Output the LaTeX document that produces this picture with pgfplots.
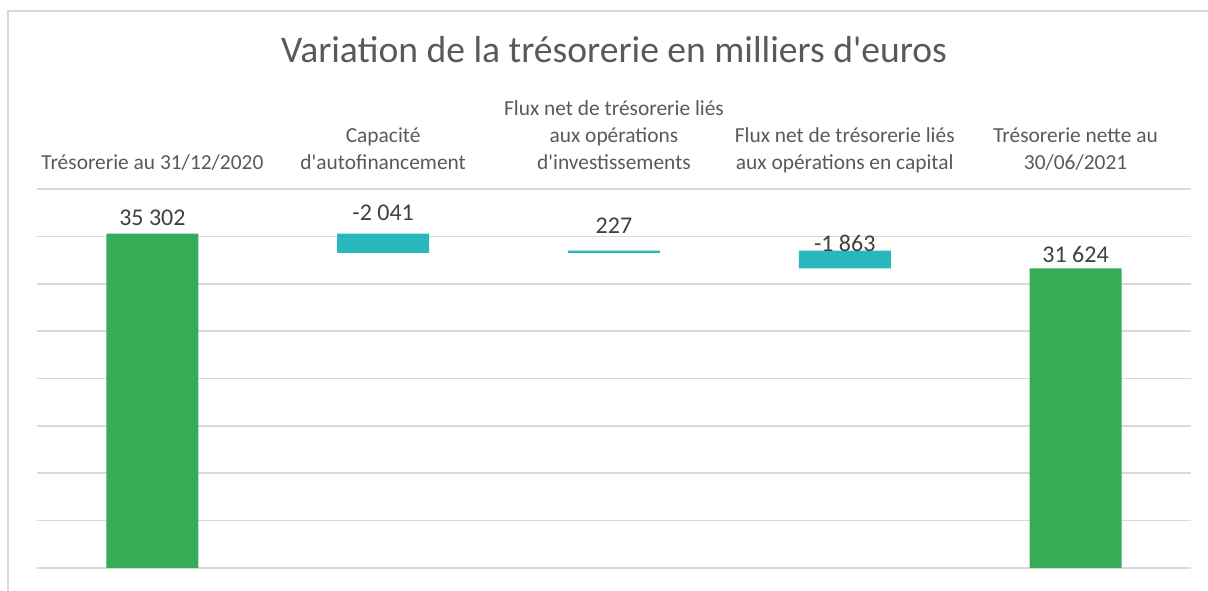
\documentclass[border=0pt]{standalone}
\usepackage{fontspec}
\setmainfont{Carlito}[Ligatures=TeXOff]
\usepackage{pgfplots}
\pgfplotsset{compat=1.18}
\definecolor{cgreen}{HTML}{37AC57}
\definecolor{cteal}{HTML}{27B7BC}
\definecolor{cgrid}{HTML}{D9D9D9}
\definecolor{ctext}{HTML}{595959}
\definecolor{clab}{HTML}{404040}
\begin{document}
\begin{tikzpicture}
\useasboundingbox (0,0) rectangle (1208pt,591pt);
\begin{axis}[
  at={(37pt,23pt)}, anchor=south west,
  width=1154pt, height=379pt, scale only axis,
  xmin=-0.5, xmax=4.5, ymin=0, ymax=40000,
  ybar stacked, bar width=92pt,
  xtick={0,1,2,3,4},
  xticklabels={{Trésorerie au 31/12/2020},{Capacité\\d'autofinancement},{Flux net de trésorerie liés\\aux opérations\\d'investissements},{Flux net de trésorerie liés\\aux opérations en capital},{Trésorerie nette au\\30/06/2021}},
  xticklabel pos=upper,
  xticklabel style={anchor=south, align=center, inner sep=0pt, text depth=0pt, yshift=19pt, font=\fontsize{21.4}{27}\selectfont, text=ctext},
  ytick={0,5000,...,40000}, yticklabels={}, scaled y ticks=false,
  ymajorgrids, grid style={cgrid, line width=1.6pt},
  axis line style={draw=none}, major tick length=0pt,
  title={Variation de la trésorerie en milliers d'euros},
  title style={at={(0.5,1)}, anchor=base, yshift=120pt, font=\fontsize{37.6}{44}\selectfont, text=ctext},
  clip=false,
]
\addplot[draw=none, fill=none] coordinates {(0,0) (1,33261) (2,33261) (3,31625) (4,0)};
\addplot[draw=none, fill=cgreen] coordinates {(0,35302) (1,0) (2,0) (3,0) (4,31624)};
\addplot[draw=none, fill=cteal] coordinates {(0,0) (1,2041) (2,227) (3,1863) (4,0)};
\end{axis}
\begin{axis}[
  at={(37pt,23pt)}, anchor=south west,
  width=1154pt, height=379pt, scale only axis,
  xmin=-0.5, xmax=4.5, ymin=0, ymax=40000,
  hide axis, clip=false,
]
\addplot[only marks, mark=none, nodes near coords, point meta=explicit symbolic,
  nodes near coords style={anchor=center, inner sep=0pt, font=\fontsize{24}{28}\selectfont, text=clab}]
  coordinates {(0,36939) [35 302] (1,37446) [-2 041] (2,36126) [227] (3,34227) [-1 863] (4,33055) [31 624]};
\end{axis}
\draw[cgrid, line width=2pt] (8.3pt,-10pt) |- (1230pt,579.5pt);
\end{tikzpicture}
\end{document}
